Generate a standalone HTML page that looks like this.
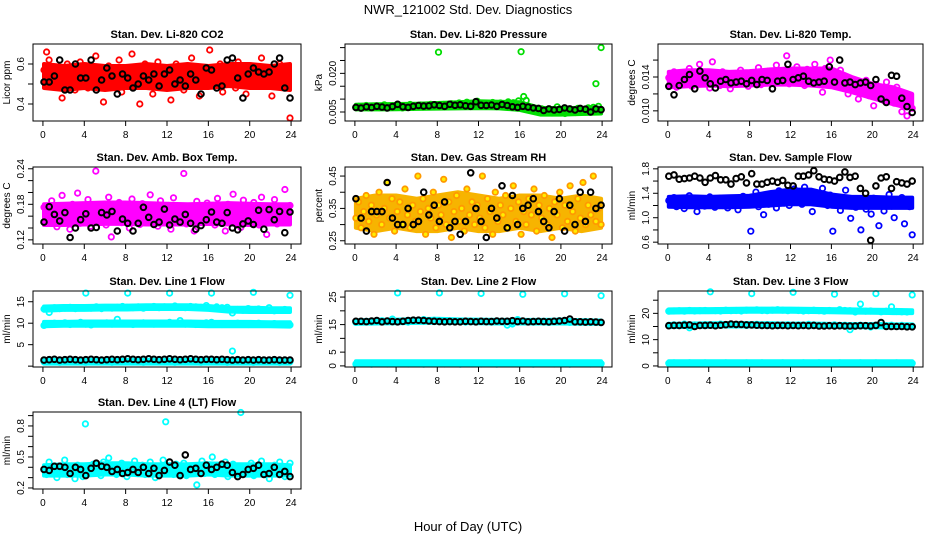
<!DOCTYPE html>
<html><head><meta charset="utf-8"><style>
body{margin:0;background:#fff;}
svg text{font-family:"Liberation Sans",sans-serif;}
</style></head><body>
<svg id="chart" width="936" height="540" viewBox="0 0 936 540" xmlns="http://www.w3.org/2000/svg">
<rect width="936" height="540" fill="#fff"/>
<text x="468" y="14" font-size="13" text-anchor="middle">NWR_121002 Std. Dev. Diagnostics</text>
<text x="468" y="531" font-size="13" text-anchor="middle">Hour of Day (UTC)</text>
</svg>
<script>
const xTicks=[0,4,8,12,16,20,24];
const bandHours=[0,2,4,6,8,10,12,14,16,18,20,22,24];
const co2BandLo=[0.48,0.47,0.48,0.47,0.48,0.48,0.47,0.48,0.48,0.49,0.48,0.48,0.47];
const co2BandHi=[0.60,0.59,0.60,0.59,0.59,0.60,0.59,0.60,0.59,0.60,0.60,0.59,0.60];
const presBandLo=[0.0060,0.0060,0.0061,0.0062,0.0063,0.0064,0.0065,0.0064,0.0058,0.0040,0.0040,0.0042,0.0044];
const presBandHi=[0.0078,0.0080,0.0081,0.0082,0.0085,0.0088,0.0092,0.0090,0.0088,0.0066,0.0065,0.0066,0.0067];
const tempBandLo=[0.0128,0.0129,0.0130,0.0129,0.0130,0.0131,0.0131,0.0130,0.0128,0.0122,0.0115,0.0108,0.0102];
const tempBandHi=[0.0146,0.0148,0.0148,0.0146,0.0147,0.0149,0.0150,0.0150,0.0150,0.0140,0.0132,0.0128,0.0120];
const ambBandLo=[0.145,0.145,0.146,0.147,0.147,0.146,0.146,0.146,0.147,0.146,0.145,0.146,0.146];
const ambBandHi=[0.180,0.181,0.182,0.183,0.183,0.182,0.181,0.180,0.181,0.182,0.181,0.180,0.180];
const rhBandLo=[0.29,0.28,0.29,0.28,0.28,0.29,0.28,0.28,0.29,0.28,0.29,0.28,0.29];
const rhBandHi=[0.38,0.39,0.39,0.38,0.39,0.40,0.39,0.38,0.39,0.39,0.38,0.39,0.38];
const flowBandLo=[1.18,1.17,1.17,1.17,1.18,1.20,1.22,1.22,1.18,1.16,1.16,1.16,1.16];
const flowBandHi=[1.34,1.35,1.34,1.35,1.36,1.42,1.46,1.46,1.38,1.34,1.34,1.33,1.33];
const l1HighLo=[12.9,13.1,13.1,13.2,13.2,13.3,13.3,13.3,13.1,12.7,12.6,12.6,12.6];
const l1HighHi=[13.9,14.0,14.0,14.1,14.1,14.2,14.2,14.2,14.0,13.6,13.6,13.5,13.5];
const l1MidLo=[9.3,9.4,9.4,9.4,9.4,9.4,9.4,9.4,9.3,9.3,9.3,9.3,9.2];
const l1MidHi=[10.3,10.3,10.4,10.4,10.4,10.4,10.4,10.4,10.3,10.3,10.3,10.2,10.2];
const l1LowLo=[0.6,0.6,0.6,0.6,0.6,0.6,0.6,0.6,0.6,0.6,0.6,0.6,0.6];
const l1LowHi=[1.5,1.5,1.5,1.5,1.5,1.5,1.5,1.5,1.5,1.5,1.5,1.5,1.5];
const l2HighLo=[15.3,15.4,15.5,15.6,15.7,15.6,15.5,15.4,15.4,15.4,15.4,15.3,15.3];
const l2HighHi=[16.6,16.7,16.8,17.0,17.1,16.9,16.8,16.7,16.7,16.7,16.8,16.6,16.5];
const l2LowLo=[0.2,0.2,0.2,0.2,0.2,0.2,0.2,0.2,0.2,0.2,0.2,0.2,0.2];
const l2LowHi=[1.7,1.7,1.7,1.7,1.7,1.7,1.7,1.7,1.7,1.7,1.7,1.7,1.7];
const l3HighLo=[20.3,20.4,20.4,20.5,20.6,20.6,20.6,20.5,20.4,20.3,20.2,20.1,20.1];
const l3HighHi=[21.5,21.6,21.6,21.7,21.8,21.8,21.8,21.7,21.6,21.5,21.4,21.3,21.2];
const l3MidLo=[14.8,14.8,14.9,15.0,15.0,14.9,14.9,14.9,14.8,14.7,14.7,14.6,14.6];
const l3MidHi=[16.0,16.1,16.2,16.3,16.3,16.2,16.1,16.1,16.0,15.9,15.9,15.8,15.8];
const l3LowLo=[0.4,0.4,0.4,0.4,0.4,0.4,0.4,0.4,0.4,0.4,0.4,0.4,0.4];
const l3LowHi=[1.8,1.8,1.8,1.8,1.8,1.8,1.8,1.8,1.8,1.8,1.8,1.8,1.8];
const l4BandLo=[0.32,0.32,0.32,0.33,0.33,0.32,0.32,0.32,0.33,0.32,0.32,0.32,0.32];
const l4BandHi=[0.42,0.43,0.43,0.44,0.44,0.43,0.43,0.43,0.44,0.43,0.43,0.43,0.42];

const co2Red=[0.57,0.66,0.62,0.52,0.55,0.49,0.58,0.43,0.53,0.60,0.50,0.56,0.47,0.54,0.61,0.51,0.55,0.48,0.58,0.52,0.64,0.50,0.56,0.41,0.54,0.59,0.49,0.57,0.53,0.62,0.46,0.55,0.51,0.58,0.65,0.52,0.56,0.40,0.54,0.60,0.50,0.57,0.45,0.55,0.61,0.52,0.49,0.58,0.53,0.42,0.56,0.60,0.51,0.55,0.47,0.59,0.53,0.63,0.50,0.56,0.44,0.54,0.58,0.52,0.67,0.49,0.57,0.53,0.60,0.46,0.55,0.51,0.58,0.54,0.48,0.61,0.52,0.56,0.45,0.55,0.59,0.50,0.57,0.53,0.63,0.49,0.56,0.52,0.44,0.58,0.54,0.60,0.51,0.55,0.48,0.33];
const co2Black=[0.51,0.51,0.54,0.62,0.47,0.47,0.60,0.53,0.53,0.62,0.47,0.52,0.58,0.54,0.45,0.55,0.53,0.48,0.50,0.54,0.52,0.55,0.49,0.55,0.57,0.50,0.52,0.49,0.55,0.52,0.45,0.58,0.57,0.48,0.49,0.62,0.63,0.53,0.43,0.55,0.58,0.56,0.55,0.56,0.60,0.63,0.48,0.43];
const presGreen=[0.0068,0.0072,0.0065,0.0070,0.0075,0.0066,0.0071,0.0069,0.0074,0.0067,0.0072,0.0078,0.0065,0.0070,0.0073,0.0068,0.0076,0.0071,0.0066,0.0074,0.0070,0.0079,0.0068,0.0073,0.0071,0.0077,0.0069,0.0075,0.0072,0.0080,0.0070,0.0076,0.0282,0.0074,0.0079,0.0071,0.0077,0.0082,0.0073,0.0078,0.0085,0.0075,0.0080,0.0088,0.0074,0.0081,0.0077,0.0092,0.0079,0.0084,0.0076,0.0083,0.0080,0.0087,0.0078,0.0082,0.0085,0.0077,0.0083,0.0089,0.0079,0.0086,0.0081,0.0093,0.0284,0.0110,0.0095,0.0072,0.0068,0.0064,0.0058,0.0052,0.0062,0.0049,0.0055,0.0060,0.0046,0.0053,0.0070,0.0050,0.0057,0.0044,0.0061,0.0052,0.0058,0.0048,0.0064,0.0054,0.0059,0.0050,0.0066,0.0055,0.0068,0.0160,0.0072,0.0300];
const presBlack=[0.0068,0.0065,0.0070,0.0067,0.0072,0.0069,0.0066,0.0071,0.0080,0.0070,0.0068,0.0072,0.0075,0.0073,0.0074,0.0078,0.0075,0.0072,0.0080,0.0076,0.0078,0.0074,0.0072,0.0090,0.0076,0.0075,0.0077,0.0072,0.0079,0.0075,0.0070,0.0068,0.0072,0.0069,0.0066,0.0064,0.0056,0.0062,0.0058,0.0060,0.0066,0.0062,0.0058,0.0064,0.0061,0.0050,0.0062,0.0059];
const tempMag=[0.0139,0.0133,0.0146,0.0128,0.0137,0.0142,0.0131,0.0136,0.0150,0.0129,0.0140,0.0134,0.0155,0.0132,0.0138,0.0144,0.0127,0.0158,0.0136,0.0141,0.0130,0.0146,0.0135,0.0139,0.0126,0.0143,0.0137,0.0132,0.0148,0.0136,0.0140,0.0129,0.0145,0.0134,0.0138,0.0151,0.0131,0.0142,0.0136,0.0147,0.0133,0.0140,0.0154,0.0135,0.0143,0.0138,0.0165,0.0132,0.0146,0.0139,0.0152,0.0136,0.0144,0.0130,0.0149,0.0141,0.0137,0.0155,0.0134,0.0145,0.0122,0.0150,0.0139,0.0160,0.0135,0.0142,0.0131,0.0148,0.0127,0.0140,0.0120,0.0135,0.0124,0.0132,0.0114,0.0129,0.0121,0.0136,0.0118,0.0127,0.0106,0.0131,0.0119,0.0125,0.0112,0.0134,0.0117,0.0123,0.0109,0.0128,0.0115,0.0099,0.0113,0.0094,0.0108,0.0103];
const tempBlack=[0.0129,0.0119,0.0130,0.0137,0.0143,0.0126,0.0147,0.0139,0.0132,0.0127,0.0135,0.0137,0.0133,0.0134,0.0135,0.0132,0.0136,0.0131,0.0137,0.0136,0.0126,0.0135,0.0136,0.0155,0.0137,0.0139,0.0141,0.0135,0.0133,0.0134,0.0135,0.0152,0.0134,0.0160,0.0133,0.0134,0.0131,0.0133,0.0134,0.0130,0.0137,0.0114,0.0110,0.0142,0.0141,0.0115,0.0105,0.0098];
const ambMag=[0.175,0.162,0.150,0.186,0.158,0.142,0.170,0.195,0.153,0.166,0.138,0.180,0.160,0.199,0.148,0.172,0.156,0.188,0.143,0.165,0.236,0.152,0.178,0.160,0.145,0.192,0.125,0.168,0.155,0.183,0.149,0.173,0.162,0.140,0.189,0.157,0.170,0.146,0.181,0.164,0.152,0.196,0.159,0.174,0.143,0.186,0.166,0.150,0.178,0.138,0.191,0.160,0.171,0.154,0.232,0.147,0.176,0.163,0.135,0.185,0.158,0.169,0.149,0.182,0.161,0.172,0.145,0.190,0.156,0.167,0.135,0.180,0.160,0.197,0.152,0.174,0.141,0.187,0.163,0.170,0.150,0.183,0.158,0.145,0.192,0.166,0.129,0.176,0.155,0.188,0.147,0.169,0.160,0.205,0.152,0.178];
const ambBlack=[0.150,0.176,0.163,0.152,0.166,0.124,0.140,0.154,0.164,0.140,0.141,0.166,0.162,0.168,0.135,0.155,0.148,0.135,0.148,0.175,0.158,0.146,0.150,0.172,0.145,0.155,0.150,0.163,0.148,0.138,0.144,0.154,0.167,0.150,0.148,0.166,0.140,0.137,0.147,0.152,0.146,0.170,0.138,0.171,0.154,0.168,0.132,0.167];
const rhOrange=[0.32,0.37,0.29,0.34,0.39,0.31,0.36,0.27,0.33,0.40,0.30,0.35,0.43,0.32,0.38,0.28,0.34,0.37,0.30,0.41,0.33,0.29,0.36,0.31,0.45,0.34,0.38,0.27,0.35,0.32,0.40,0.29,0.36,0.33,0.44,0.30,0.37,0.26,0.34,0.39,0.31,0.35,0.28,0.41,0.33,0.37,0.30,0.36,0.32,0.45,0.29,0.38,0.34,0.27,0.40,0.31,0.36,0.33,0.39,0.29,0.35,0.42,0.31,0.37,0.27,0.34,0.30,0.38,0.33,0.41,0.28,0.36,0.32,0.39,0.30,0.35,0.26,0.37,0.33,0.40,0.29,0.36,0.31,0.42,0.34,0.28,0.38,0.32,0.43,0.30,0.36,0.33,0.45,0.31,0.35,0.30];
const rhBlack=[0.38,0.32,0.28,0.34,0.34,0.34,0.43,0.32,0.30,0.30,0.35,0.30,0.31,0.40,0.33,0.36,0.31,0.37,0.29,0.31,0.27,0.31,0.46,0.35,0.31,0.26,0.35,0.32,0.42,0.29,0.39,0.30,0.35,0.36,0.38,0.34,0.31,0.29,0.34,0.38,0.28,0.36,0.30,0.40,0.31,0.40,0.35,0.36];
const flowBlue=[1.28,1.22,1.33,1.18,1.25,1.30,1.15,1.27,1.36,1.21,1.26,1.10,1.31,1.24,1.19,1.29,1.34,1.23,1.17,1.27,1.32,1.20,1.25,1.16,1.30,1.22,1.28,1.13,1.26,1.35,1.21,1.24,0.78,1.29,1.42,1.18,1.27,1.05,1.33,1.22,1.38,1.26,1.16,1.44,1.30,1.24,1.40,1.20,1.32,1.47,1.26,1.36,1.22,1.50,1.31,1.28,1.10,1.41,1.34,1.25,1.48,1.30,1.20,1.37,0.78,1.26,1.33,1.12,1.28,1.45,1.22,0.99,1.30,1.17,1.25,0.80,1.29,1.14,1.26,1.06,1.32,1.20,0.87,1.27,1.11,1.24,1.38,1.19,1.00,1.28,1.22,1.33,0.90,1.25,1.18,0.72];
const flowBlack=[1.68,1.70,1.63,1.64,1.65,1.68,1.65,1.58,1.65,1.69,1.62,1.62,1.55,1.64,1.67,1.57,1.72,1.55,1.55,1.58,1.60,1.58,1.61,1.53,1.52,1.68,1.68,1.70,1.77,1.67,1.63,1.62,1.60,1.66,1.75,1.66,1.68,1.48,1.40,0.63,1.52,1.65,1.67,1.48,1.59,1.57,1.55,1.60];
const l1High=[13.3,12.5,13.6,13.4,13.5,13.7,13.4,13.6,17.0,13.5,13.8,13.4,13.6,13.5,13.7,13.9,17.0,13.6,13.8,13.5,13.7,13.9,13.6,13.8,17.0,14.0,13.7,13.6,13.9,13.8,13.7,14.1,17.0,13.8,13.6,13.7,12.4,13.2,13.0,13.4,17.2,13.3,13.1,13.6,12.9,13.0,13.2,16.5];
const l1Mid=[9.5,9.8,10.0,9.9,10.1,9.7,9.9,10.2,9.8,9.6,10.0,9.9,10.1,9.8,10.9,9.9,10.0,9.7,9.9,10.1,10.0,9.8,10.0,9.9,10.2,9.9,10.6,9.8,10.0,9.7,9.9,10.1,10.2,9.8,9.7,9.9,3.5,10.0,9.8,9.7,9.9,10.0,9.8,9.7,9.9,9.8,9.7,9.6];
const l1Low=[1.0,1.1,1.0,0.9,1.1,1.0,1.0,1.1,0.9,1.0,1.1,1.0,1.0,0.9,1.1,1.0,1.0,1.1,1.0,0.9,1.0,1.1,1.0,1.0,1.1,0.9,1.0,1.0,1.1,1.0,0.9,1.0,1.1,1.0,1.0,0.9,1.1,1.0,1.0,1.1,0.9,1.0,1.0,1.1,1.0,0.9,1.0,1.0];
const l1Black=[1.4,1.5,1.6,1.4,1.5,1.6,1.5,1.4,1.5,1.6,1.5,1.4,1.5,1.6,1.5,1.6,1.7,1.6,1.5,1.6,1.7,1.6,1.5,1.6,1.7,1.6,1.5,1.6,1.7,1.6,1.5,1.6,1.6,1.5,1.6,1.5,1.4,1.5,1.4,1.5,1.4,1.5,1.4,1.4,1.5,1.4,1.4,1.4];
const l2High=[15.8,16.0,16.2,15.9,16.1,16.4,16.0,17.0,26.5,16.1,15.9,16.2,16.5,16.8,16.3,16.6,26.5,16.2,16.0,16.3,16.1,15.9,16.2,16.0,26.3,16.1,15.9,16.0,16.2,14.8,15.2,16.8,26.0,16.1,15.9,16.2,16.0,15.8,16.1,16.4,26.2,15.8,16.0,15.9,16.1,15.8,15.9,25.5];
const l2Low=[0.7,0.9,0.8,0.6,1.0,0.8,0.7,0.9,0.8,1.0,0.7,0.8,0.9,0.6,0.8,1.0,0.8,0.7,0.9,0.8,0.6,0.9,0.8,1.0,0.7,0.8,0.9,0.6,0.8,1.0,0.8,0.7,0.9,0.8,0.6,0.9,0.8,1.0,0.7,0.8,0.9,0.6,0.8,1.0,0.8,0.7,0.9,0.8];
const l2Black=[16.2,16.2,16.1,16.3,16.5,16.0,16.3,16.1,16.0,16.2,16.5,16.6,16.6,16.5,16.3,16.2,16.1,16.0,16.1,16.0,16.0,16.2,16.1,16.0,16.2,16.1,16.1,16.3,16.2,16.2,16.4,16.1,16.3,16.0,16.1,16.2,16.1,16.0,16.2,16.3,16.5,17.0,16.0,16.0,15.9,16.0,15.9,15.8];
const l3High=[20.8,20.9,21.0,20.8,21.1,20.9,21.0,21.1,28.2,21.0,20.9,21.2,21.0,21.1,20.9,21.2,27.5,21.3,21.1,21.0,21.2,21.4,21.2,21.0,28.0,21.1,20.9,21.0,21.2,21.0,20.8,21.1,27.3,21.4,21.1,21.0,20.5,23.5,20.8,20.9,27.5,20.6,20.8,22.5,20.7,20.6,20.5,27.0];
const l3Mid=[15.4,15.6,15.3,15.9,14.5,15.6,15.4,15.7,15.5,15.3,15.9,15.6,15.8,15.5,15.7,15.4,15.6,15.8,15.5,15.7,15.6,15.3,15.5,15.7,15.4,15.6,15.5,15.8,15.6,15.4,15.5,15.3,15.6,15.4,15.5,13.8,15.3,15.5,15.2,14.8,15.5,15.4,15.3,15.5,15.2,15.4,15.3,15.2];
const l3Low=[1.0,1.2,1.1,0.9,1.2,1.0,1.1,1.2,1.0,0.9,1.1,1.2,1.0,1.1,0.9,1.2,1.0,1.1,1.2,1.0,0.9,1.1,1.2,1.0,1.1,0.9,1.2,1.0,1.1,1.2,1.0,0.9,1.1,1.2,1.0,1.1,0.9,1.2,1.0,1.1,1.2,1.0,0.9,1.1,1.2,1.0,1.1,1.0];
const l3Black=[15.3,15.4,15.4,15.5,15.6,15.0,15.4,15.4,15.5,15.3,15.5,15.7,15.9,15.8,15.8,15.6,15.6,15.5,15.4,15.4,15.3,15.4,15.4,15.3,15.4,15.3,15.4,15.3,15.4,15.2,15.2,15.3,15.2,15.3,15.2,15.2,15.2,15.3,15.3,15.2,15.4,16.5,15.0,15.0,15.0,15.0,14.9,14.9];
const l4Cyan=[0.38,0.33,0.45,0.36,0.41,0.30,0.39,0.35,0.47,0.33,0.40,0.37,0.29,0.42,0.36,0.31,0.82,0.38,0.34,0.43,0.36,0.40,0.32,0.45,0.37,0.49,0.35,0.41,0.33,0.39,0.44,0.36,0.31,0.40,0.37,0.46,0.34,0.39,0.42,0.33,0.38,0.45,0.36,0.30,0.41,0.37,0.47,0.84,0.35,0.40,0.33,0.43,0.38,0.36,0.44,0.32,0.39,0.35,0.41,0.23,0.37,0.46,0.34,0.40,0.38,0.50,0.33,0.42,0.36,0.39,0.45,0.31,0.37,0.43,0.35,0.40,0.93,0.34,0.41,0.37,0.44,0.32,0.39,0.36,0.46,0.33,0.40,0.29,0.38,0.42,0.35,0.45,0.37,0.31,0.40,0.44];
const l4Black=[0.38,0.37,0.41,0.41,0.40,0.34,0.40,0.38,0.32,0.39,0.44,0.41,0.40,0.36,0.38,0.34,0.35,0.38,0.35,0.40,0.34,0.39,0.32,0.37,0.45,0.42,0.32,0.52,0.38,0.39,0.34,0.42,0.38,0.40,0.43,0.42,0.35,0.31,0.33,0.38,0.39,0.42,0.33,0.34,0.40,0.33,0.36,0.31];

const NS='http://www.w3.org/2000/svg';
const svg=document.getElementById('chart');
function mk(tag,attrs,parent){const e=document.createElementNS(NS,tag);for(const k in attrs)e.setAttribute(k,attrs[k]);(parent||svg).appendChild(e);return e;}
const cols=[[33,301],[345,612],[658,923]];
const rows=[[44,121],[167,244],[291,367],[412,489]];
const panels=[
 {name:'co2',title:'Stan. Dev. Li-820 CO2',ylab:'Licor ppm',c:0,r:0,dom:[0.315,0.70],ticks:[0.4,0.5,0.6],labels:['0.4','','0.6'],bands:[[co2BandLo,co2BandHi,'#ff0000']],series:[[co2Red,'#ff0000',null],[co2Black,'#000',null]]},
 {name:'pressure',title:'Stan. Dev. Li-820 Pressure',ylab:'kPa',c:1,r:0,dom:[0.0015,0.0314],ticks:[0.005,0.010,0.015,0.020,0.025,0.030],labels:['0.005','','','0.020','',''],bands:[[presBandLo,presBandHi,'#00dd00']],series:[[presGreen,'#00dd00',null],[presBlack,'#000',null]]},
 {name:'temp',title:'Stan. Dev. Li-820 Temp.',ylab:'degrees C',c:2,r:0,dom:[0.0088,0.0179],ticks:[0.010,0.012,0.014,0.016],labels:['0.010','','0.014',''],bands:[[tempBandLo,tempBandHi,'#ff00ff']],series:[[tempMag,'#ff00ff',null],[tempBlack,'#000',null]]},
 {name:'amb-box-temp',title:'Stan. Dev. Amb. Box Temp.',ylab:'degrees C',c:0,r:1,dom:[0.113,0.243],ticks:[0.12,0.14,0.16,0.18,0.20,0.22,0.24],labels:['0.12','','','0.18','','','0.24'],bands:[[ambBandLo,ambBandHi,'#ff00ff']],series:[[ambMag,'#ff00ff',null],[ambBlack,'#000',null]]},
 {name:'gas-rh',title:'Stan. Dev. Gas Stream RH',ylab:'percent',c:1,r:1,dom:[0.24,0.478],ticks:[0.25,0.30,0.35,0.40,0.45],labels:['0.25','','0.35','','0.45'],bands:[[rhBandLo,rhBandHi,'#f7b400']],series:[[rhOrange,'#ff9900','#ffee00'],[rhBlack,'#000',null]]},
 {name:'sample-flow',title:'Stan. Dev. Sample Flow',ylab:'ml/min',c:2,r:1,dom:[0.57,1.83],ticks:[0.6,0.8,1.0,1.2,1.4,1.6,1.8],labels:['0.6','','1.0','','1.4','','1.8'],bands:[[flowBandLo,flowBandHi,'#0000ff']],series:[[flowBlue,'#0000ff',null],[flowBlack,'#000',null]]},
 {name:'line1',title:'Stan. Dev. Line 1 Flow',ylab:'ml/min',c:0,r:2,dom:[-0.2,17.5],ticks:[0,5,10,15],labels:['','5','10','15'],bands:[[l1HighLo,l1HighHi,'#00ffff'],[l1MidLo,l1MidHi,'#00ffff'],[l1LowLo,l1LowHi,'#00ffff']],series:[[l1High,'#00ffff',null],[l1Mid,'#00ffff',null],[l1Low,'#00ffff',null],[l1Black,'#000',null]]},
 {name:'line2',title:'Stan. Dev. Line 2 Flow',ylab:'ml/min',c:1,r:2,dom:[-0.4,27.2],ticks:[0,5,10,15,20,25],labels:['0','5','','15','','25'],bands:[[l2HighLo,l2HighHi,'#00ffff'],[l2LowLo,l2LowHi,'#00ffff']],series:[[l2High,'#00ffff',null],[l2Low,'#00ffff',null],[l2Black,'#000',null]]},
 {name:'line3',title:'Stan. Dev. Line 3 Flow',ylab:'ml/min',c:2,r:2,dom:[-0.4,28.5],ticks:[0,5,10,15,20,25],labels:['0','','10','','20',''],bands:[[l3HighLo,l3HighHi,'#00ffff'],[l3MidLo,l3MidHi,'#00ffff'],[l3LowLo,l3LowHi,'#00ffff']],series:[[l3High,'#00ffff',null],[l3Mid,'#00ffff',null],[l3Low,'#00ffff',null],[l3Black,'#000',null]]},
 {name:'line4',title:'Stan. Dev. Line 4 (LT) Flow',ylab:'ml/min',c:0,r:3,dom:[0.19,0.935],ticks:[0.2,0.3,0.4,0.5,0.6,0.7,0.8,0.9],labels:['0.2','','','0.5','','','0.8',''],bands:[[l4BandLo,l4BandHi,'#00ffff']],series:[[l4Cyan,'#00ffff',null],[l4Black,'#000',null]]}
];
panels.forEach(p=>{
 const [x0,x1]=cols[p.c],[y0,y1]=rows[p.r];
 const g=mk('g',{});
 
 
 const xs=h=>x0+(h+0.96)/25.92*(x1-x0);
 const ys=v=>y1-(v-p.dom[0])/(p.dom[1]-p.dom[0])*(y1-y0);
 const t=mk('text',{x:(x0+x1)/2,y:y0-6,'font-size':11,'font-weight':'bold','text-anchor':'middle'},g);t.textContent=p.title;
 
 
 p.bands.forEach(b=>{
  const top=bandHours.map((h,i)=>`${xs(Math.min(23.9,Math.max(0.1,h))).toFixed(1)},${ys(b[1][i]).toFixed(1)}`);
  const bot=bandHours.map((h,i)=>`${xs(Math.min(23.9,Math.max(0.1,h))).toFixed(1)},${ys(b[0][i]).toFixed(1)}`).reverse();
  const pg=mk('polygon',{points:top.concat(bot).join(' '),fill:b[2],stroke:b[2],'stroke-width':4,'stroke-linejoin':'round'},g);
  
  
 });
 p.series.forEach(s=>{
  const arr=s[0],n=arr.length,blk=s[1]==='#000';
  arr.forEach((v,i)=>{
   const h=0.1+i*23.8/(n-1);
   const c=mk('circle',{cx:xs(h).toFixed(1),cy:ys(v).toFixed(1),r:blk?2.8:2.7,fill:s[2]||'none',stroke:s[1],'stroke-width':blk?2:1.8},g);
   
   
  });
 });
 const box=mk('rect',{x:x0,y:y0,width:x1-x0,height:y1-y0,fill:'none',stroke:'#000','stroke-width':1},g);
 
 
 mk('line',{x1:xs(0),x2:xs(24),y1:y1,y2:y1,stroke:'#000'},g);
 xTicks.forEach(h=>{
  mk('line',{x1:xs(h),x2:xs(h),y1:y1,y2:y1+5,stroke:'#000'},g);
  const tl=mk('text',{x:xs(h),y:y1+17,'font-size':10,'text-anchor':'middle'},g);tl.textContent=h;
  
  
 });
 mk('line',{x1:x0,x2:x0,y1:ys(p.ticks[0]),y2:ys(p.ticks[p.ticks.length-1]),stroke:'#000'},g);
 p.ticks.forEach((v,i)=>{
  const y=ys(v);
  mk('line',{x1:x0-5,x2:x0,y1:y,y2:y,stroke:'#000'},g);
  if(p.labels[i]){
   const tl=mk('text',{x:x0-9,y:y,'font-size':10,'text-anchor':'middle',transform:`rotate(-90 ${x0-9} ${y})`},g);tl.textContent=p.labels[i];
   
   
  }
 });
 const yl=mk('text',{x:x0-23,y:(y0+y1)/2,'font-size':10,'text-anchor':'middle',transform:`rotate(-90 ${x0-23} ${(y0+y1)/2})`},g);yl.textContent=p.ylab;
 
 
});
</script>
</body></html>
